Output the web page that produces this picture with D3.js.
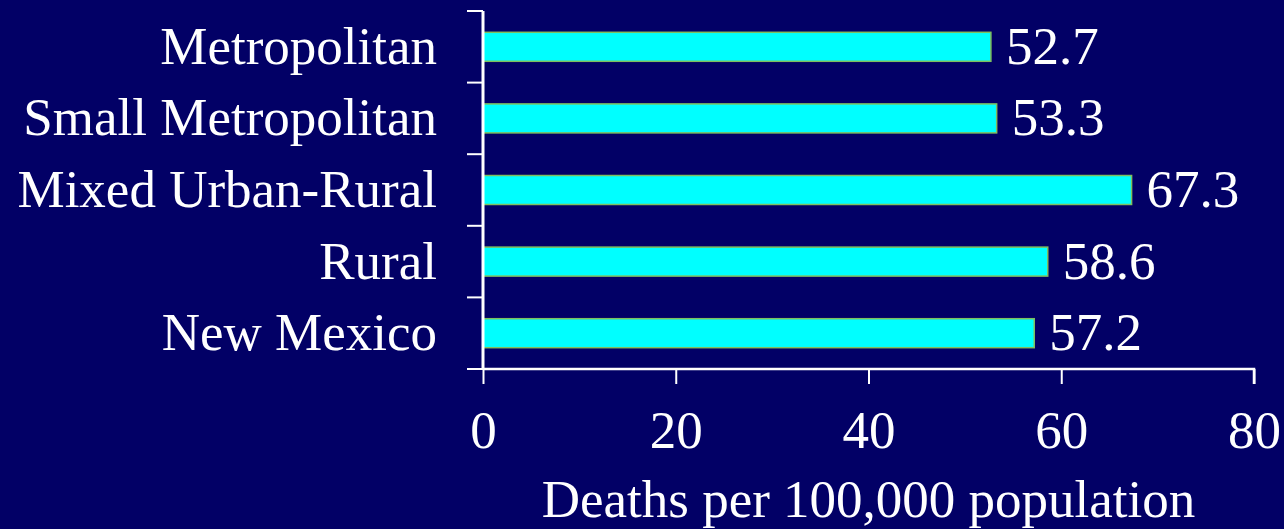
<!DOCTYPE html>
<html><head><meta charset="utf-8">
<script src="https://cdn.jsdelivr.net/npm/d3@7"></script>
<style>html,body{margin:0;padding:0;background:#020066;overflow:hidden}</style>
</head><body>
<svg id="c" width="1284" height="529"></svg>
<script>
const categories = ["Metropolitan","Small Metropolitan","Mixed Urban-Rural","Rural","New Mexico"];
const values = [52.7, 53.3, 67.3, 58.6, 57.2];
const xTicks = [0,20,40,60,80];
const xTitle = "Deaths per 100,000 population";

(function(){
const svg = d3.select("#c");
svg.append("rect").attr("width",1284).attr("height",529).attr("fill","#020066");
const pL=483, pR=1254, pT=11, pB=369;
const FS = 53;
const x = d3.scaleLinear().domain([0,80]).range([pL,pR]);
const y = d3.scaleBand().domain(categories).range([pT,pB]).paddingInner(0.595).paddingOuter(0.2975);
const band = d3.scaleBand().domain(categories).range([pT,pB]);
const font = "'Liberation Serif','Times New Roman',serif";

svg.selectAll("rect.bar").data(categories).enter().append("rect")
  .attr("class","bar")
  .attr("x",x(0)).attr("y",d=>y(d))
  .attr("width",(d,i)=>x(values[i])-x(0)).attr("height",y.bandwidth())
  .attr("fill","#00ffff").attr("stroke","#7fbf5f").attr("stroke-width",1.5);

svg.selectAll("text.val").data(categories).enter().append("text")
  .attr("x",(d,i)=>x(values[i])+15).attr("y",d=>y(d)+y.bandwidth()/2+17)
  .attr("fill","#fff").attr("font-family",font).attr("font-size",FS)
  .text((d,i)=>values[i].toFixed(1));

svg.selectAll("text.cat").data(categories).enter().append("text")
  .attr("x",437).attr("y",d=>y(d)+y.bandwidth()/2+17)
  .attr("text-anchor","end").attr("fill","#fff").attr("font-family",font).attr("font-size",FS)
  .text(d=>d);

svg.append("line").attr("x1",pL).attr("x2",pL).attr("y1",pT).attr("y2",pB).attr("stroke","#fff").attr("stroke-width",3);
const bounds = categories.map(d=>band(d)).concat([pB]);
svg.selectAll("line.yt").data(bounds).enter().append("line")
  .attr("x1",467).attr("x2",pL).attr("y1",d=>d).attr("y2",d=>d).attr("stroke","#fff").attr("stroke-width",2);

const xAxis = svg.append("g").attr("transform",`translate(0,${pB})`)
  .call(d3.axisBottom(x).tickValues(xTicks).tickSize(15).tickFormat(d3.format("d")));
xAxis.select(".domain").attr("stroke","#fff").attr("stroke-width",2.5).attr("d",`M${pL},0H${pR}V15`);
xAxis.selectAll(".tick line").attr("stroke","#fff").attr("stroke-width",2);
xAxis.selectAll(".tick text").attr("fill","#fff").attr("font-family",font).attr("font-size",FS)
  .attr("y",79).attr("dy",0);

svg.append("text").attr("x",(pL+pR)/2).attr("y",517).attr("text-anchor","middle")
  .attr("fill","#fff").attr("font-family",font).attr("font-size",FS).text(xTitle);
})();
</script>
</body></html>
